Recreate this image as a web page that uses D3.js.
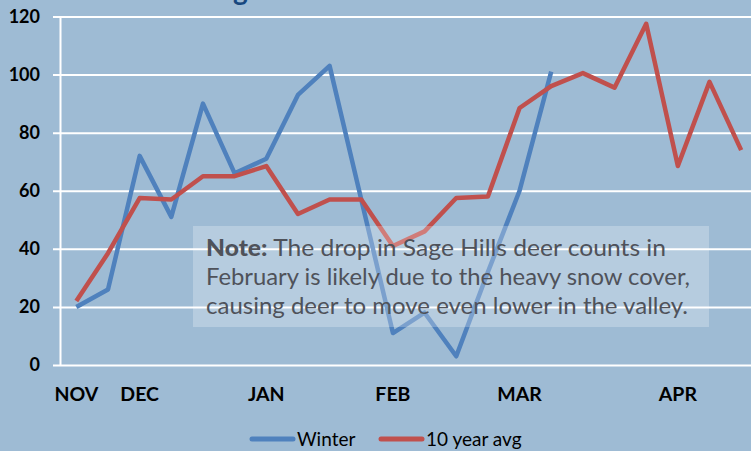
<!DOCTYPE html>
<html>
<head>
<meta charset="utf-8">
<script src="https://cdn.jsdelivr.net/npm/d3@7"></script>
<style>
	body { margin: 0; background: #9ebbd4; }
	svg { display: block; }
</style>
</head>
<body>
<div id="canvas"></div>
<script>
const categories = d3.range(22);
const monthLabels = ['NOV', '', 'DEC', '', '', '', 'JAN', '', '', '', 'FEB', '', '', '', 'MAR', '', '', '', '', 'APR', '', ''];
const winter = [20, 26, 72, 51, 90, 66, 71, 93, 103, 57, 11, 18, 3, 32, 60, 101];
const tenYearAvg = [22, 38.5, 57.5, 57, 65, 65, 68.5, 52, 57, 57, 41, 46, 57.5, 58, 88.5, 96, 100.5, 95.5, 117.5, 68.5, 97.5, 74];
const yTicks = [0, 20, 40, 60, 80, 100, 120];
const seriesNames = ['Winter', '10 year avg'];
const noteLines = [
	'The drop in Sage Hills deer counts in',
	'February is likely due to the heavy snow cover,',
	'causing deer to move even lower in the valley.'
];

const w = 751;
const h = 451;
const blue = '#4f81bd';
const red = '#c0504d';

const svg = d3.select('#canvas')
	.append('svg')
	.attr('width', w)
	.attr('height', h);

svg.append('rect')
	.attr('width', w)
	.attr('height', h)
	.attr('fill', '#9ebbd4');

const xScale = d3.scaleBand()
	.domain(categories)
	.range([60.5, 757]);

const yScale = d3.scaleLinear()
	.domain([0, 120])
	.range([365, 16.5]);

const cx = i => xScale(i) + xScale.bandwidth() / 2;

// title, mostly cut off above the picture (as in the original)
const title = svg.append('text')
	.attr('y', -0.5)
	.attr('fill', '#17487f')
	.style('font-family', 'Lato, sans-serif')
	.style('font-weight', 'bold')
	.style('font-size', '28px')
	.text('Sage Hills Deer Counts');
title.attr('x', 233 - title.node().getSubStringLength(0, 2));

const yAxis = d3.axisLeft(yScale)
	.tickValues(yTicks)
	.tickSize(-(w - 53))
	.tickPadding(13)
	.tickFormat(d3.format('d'));

svg.append('g')
	.attr('transform', 'translate(53, 0)')
	.call(yAxis)
	.call(g => g.select('.domain').remove())
	.call(g => g.selectAll('.tick line').attr('stroke', '#fff').attr('stroke-width', 2))
	.call(g => g.selectAll('.tick text')
		.attr('fill', '#000')
		.style('font-family', 'Lato, sans-serif')
		.style('font-weight', 'bold')
		.style('font-size', '18px'));

svg.append('line')
	.attr('x1', 60.5)
	.attr('x2', 60.5)
	.attr('y1', yScale(120))
	.attr('y2', yScale(0))
	.attr('stroke', '#fff')
	.attr('stroke-width', 2);

svg.append('g')
	.selectAll('text')
	.data(categories.filter(i => monthLabels[i] !== ''))
	.enter()
	.append('text')
	.attr('x', d => cx(d))
	.attr('y', 401)
	.attr('text-anchor', 'middle')
	.style('font-family', 'Lato, sans-serif')
	.style('font-weight', 'bold')
	.style('font-size', '19.5px')
	.text(d => monthLabels[d]);

const line = d3.line()
	.x((d, i) => cx(i))
	.y(d => yScale(d));

svg.append('path')
	.datum(winter)
	.attr('d', line)
	.attr('fill', 'none')
	.attr('stroke', blue)
	.attr('stroke-width', 4.5)
	.attr('stroke-linejoin', 'round');

svg.append('path')
	.datum(tenYearAvg)
	.attr('d', line)
	.attr('fill', 'none')
	.attr('stroke', red)
	.attr('stroke-width', 4.5)
	.attr('stroke-linejoin', 'round');

// note box
svg.append('rect')
	.attr('x', 193)
	.attr('y', 226)
	.attr('width', 516)
	.attr('height', 101)
	.attr('fill', '#fff')
	.attr('fill-opacity', 0.25);

const noteWidths = [460, 484, 482];
const note = svg.append('g')
	.style('font-family', 'Lato, sans-serif')
	.style('font-size', '23px')
	.attr('fill', '#4f525a');

noteLines.forEach((t, i) => {
	const text = note.append('text')
		.attr('x', 206)
		.attr('y', 256 + i * 29)
		.attr('textLength', noteWidths[i])
		.attr('lengthAdjust', 'spacingAndGlyphs');
	if (i === 0) {
		text.append('tspan').style('font-weight', '900').text('Note: ');
	}
	text.append('tspan').text(t);
});

// legend
const legend = svg.append('g')
	.style('font-family', 'Lato, sans-serif')
	.style('font-size', '19px');

const legendX = [252, 381];
seriesNames.forEach((name, i) => {
	legend.append('line')
		.attr('x1', legendX[i])
		.attr('x2', legendX[i] + 41)
		.attr('y1', 439)
		.attr('y2', 439)
		.attr('stroke', i === 0 ? blue : red)
		.attr('stroke-width', 5)
		.attr('stroke-linecap', 'round');
	legend.append('text')
		.attr('x', legendX[i] + 45)
		.attr('y', 446)
		.text(name);
});
</script>
</body>
</html>
